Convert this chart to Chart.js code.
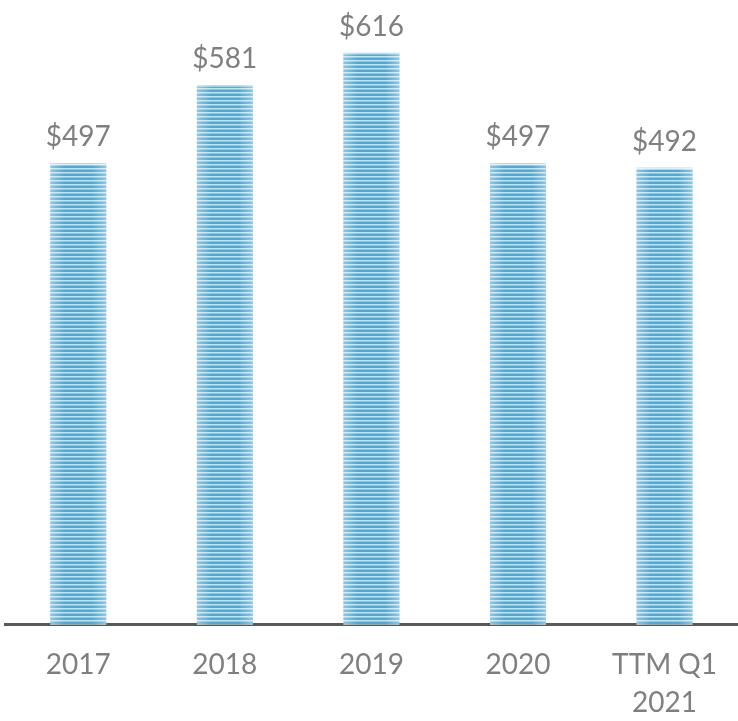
<!DOCTYPE html>
<html>
<head>
<meta charset="utf-8">
<script src="https://cdn.jsdelivr.net/npm/chart.js@4/dist/chart.umd.min.js"></script>
<style>
  html, body { margin: 0; padding: 0; background: #ffffff; }
  #wrap { width: 738px; height: 721px; position: relative; }
</style>
</head>
<body>
<div id="wrap"><canvas id="chart"></canvas></div>
<script>
// Datos del gráfico
const categories = [['2017'], ['2018'], ['2019'], ['2020'], ['TTM Q1', '2021']];
const values = [497, 581, 616, 497, 492];
const valueLabels = ['$497', '$581', '$616', '$497', '$492'];

const textColor = '#7f7f7f';
const fontFamily = 'Lato, "Open Sans", sans-serif';

// Patrón de rayas horizontales para las barras
function makeStripePattern() {
    const c = document.createElement('canvas');
    c.width = 4;
    c.height = 4;
    const g = c.getContext('2d');
    g.fillStyle = '#c2e4f3';
    g.fillRect(0, 0, 4, 4);
    g.fillStyle = '#4eaad5';
    g.fillRect(0, 1.5, 4, 2.5);
    return g.createPattern(c, 'repeat');
}

// Brillo en los bordes de cada barra y etiquetas de valor
const barExtras = {
    id: 'barExtras',
    afterDatasetsDraw(chart) {
        const ctx = chart.ctx;
        const meta = chart.getDatasetMeta(0);
        meta.data.forEach((bar, i) => {
            const left = bar.x - bar.width / 2;
            const right = bar.x + bar.width / 2;
            const grad = ctx.createLinearGradient(left, 0, right, 0);
            grad.addColorStop(0, 'rgba(255,255,255,0.35)');
            grad.addColorStop(0.25, 'rgba(255,255,255,0)');
            grad.addColorStop(0.75, 'rgba(255,255,255,0)');
            grad.addColorStop(1, 'rgba(255,255,255,0.35)');
            ctx.save();
            ctx.fillStyle = grad;
            ctx.fillRect(left, bar.y, bar.width, bar.base - bar.y);
            ctx.fillStyle = 'rgba(255,255,255,0.45)';
            ctx.fillRect(left, bar.y, bar.width, 2);

            ctx.fillStyle = textColor;
            ctx.font = '28px ' + fontFamily;
            ctx.textAlign = 'center';
            ctx.textBaseline = 'bottom';
            ctx.fillText(valueLabels[i], bar.x, bar.y - 12);
            ctx.restore();
        });
    }
};

new Chart(document.getElementById('chart'), {
    type: 'bar',
    data: {
        labels: categories,
        datasets: [{
            data: values,
            backgroundColor: makeStripePattern(),
            borderWidth: 0,
            barPercentage: 0.382,
            categoryPercentage: 1
        }]
    },
    options: {
        responsive: true,
        maintainAspectRatio: false,
        animation: false,
        layout: { padding: { top: 21, left: 5, right: 0, bottom: -22 } },
        plugins: {
            legend: { display: false },
            tooltip: { enabled: false }
        },
        scales: {
            x: {
                grid: { display: false, drawTicks: false },
                border: { display: true, color: '#595959', width: 3 },
                ticks: {
                    color: textColor,
                    font: { family: fontFamily, size: 28, lineHeight: 1.36 },
                    padding: 21,
                    maxRotation: 0
                }
            },
            y: {
                display: false,
                min: 0,
                max: 650
            }
        }
    },
    plugins: [barExtras]
});
</script>
</body>
</html>
